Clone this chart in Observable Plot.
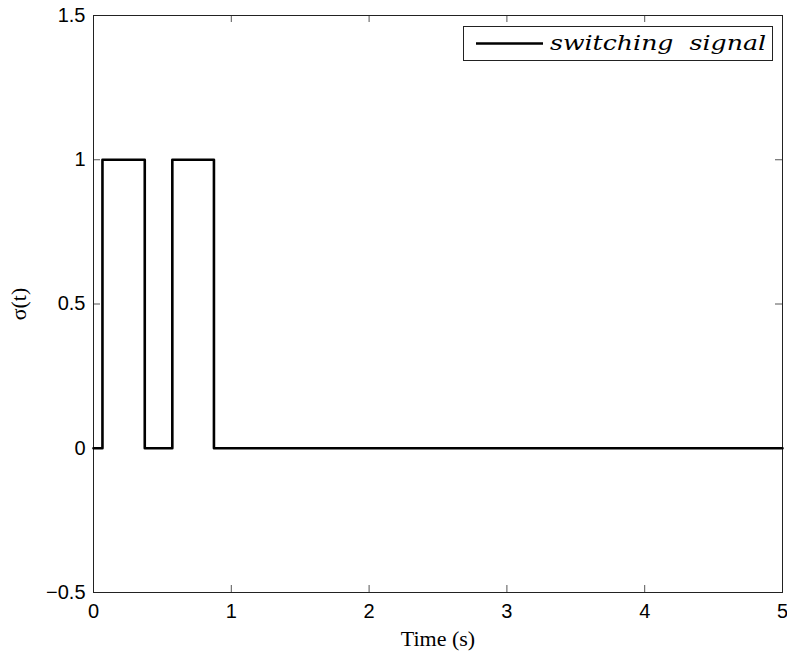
<!DOCTYPE html>
<html><head><meta charset="utf-8">
<script src="https://cdn.jsdelivr.net/npm/d3@7"></script>
<script src="https://cdn.jsdelivr.net/npm/@observablehq/plot@0.6"></script>
<style>
body{margin:0;background:#fff}
#wrap{position:relative;width:787px;height:653px}
#legend{position:absolute;left:463px;top:26px;width:308px;height:33px;border:1px solid #222;background:#fff}
</style>
</head><body><div id="wrap"></div>
<script>
const times = [0, 0.065, 0.372, 0.572, 0.874, 5];
const sigma = [0, 1, 0, 1, 0, 0];
const xTicks = [0, 1, 2, 3, 4, 5];
const yTicks = [-0.5, 0, 0.5, 1, 1.5];
const xLabel = "Time (s)";
const yLabel = "σ(t)";
const legendLabel = "switching  signal";

const data = times.map((t, i) => ({t, s: sigma[i]}));
const W = 787, H = 653, mL = 93, mR = 5, mT = 15, mB = 61;
const innerW = W - mL - mR, innerH = H - mT - mB;
const tk = 7;
const tickColor = "#555";
const fmt = d3.format("~g");

const chart = Plot.plot({
  width: W, height: H,
  marginLeft: mL, marginRight: mR, marginTop: mT, marginBottom: mB,
  x: {domain: [0, 5]},
  y: {domain: [-0.5, 1.5]},
  style: {fontFamily: "'Liberation Sans', Arial, sans-serif", fontSize: "20px", color: "#000", background: "#fff", overflow: "visible"},
  marks: [
    Plot.ruleX(xTicks, {x: d => d, insetTop: innerH - tk, stroke: tickColor}),
    Plot.ruleX(xTicks, {x: d => d, insetBottom: innerH - tk, stroke: tickColor}),
    Plot.ruleY(yTicks, {y: d => d, insetRight: innerW - tk, stroke: tickColor}),
    Plot.ruleY(yTicks, {y: d => d, insetLeft: innerW - tk, stroke: tickColor}),
    Plot.frame({stroke: "#222"}),
    Plot.axisX({ticks: xTicks, tickSize: 0, tickPadding: 11, label: null, fontSize: 20, tickFormat: fmt}),
    Plot.axisY({ticks: yTicks, tickSize: 0, tickPadding: 8, label: null, fontSize: 20, tickFormat: fmt}),
    Plot.line(data, {x: "t", y: "s", curve: "step-after", stroke: "#000", strokeWidth: 2.6}),
    Plot.text([xLabel], {frameAnchor: "bottom", dy: 38, lineAnchor: "top", text: d => d,
      fontFamily: "'Liberation Serif', 'Times New Roman', serif", fontSize: 22}),
    Plot.text([yLabel], {frameAnchor: "left", textAnchor: "middle", dx: -75, rotate: -90, text: d => d,
      fontFamily: "'Liberation Serif', 'Times New Roman', serif", fontSize: 22})
  ]
});
const wrap = document.getElementById("wrap");
wrap.appendChild(chart);

const legend = document.createElement("div");
legend.id = "legend";
legend.innerHTML = `<svg width="308" height="33" style="display:block">
  <line x1="12" x2="79" y1="16.5" y2="16.5" stroke="#000" stroke-width="2.6"/>
  <text x="86" y="23" font-family="'DejaVu Serif', serif" font-style="italic" font-size="20" style="white-space:pre" textLength="216" lengthAdjust="spacingAndGlyphs">${legendLabel}</text>
</svg>`;
wrap.appendChild(legend);
</script>
</body></html>
